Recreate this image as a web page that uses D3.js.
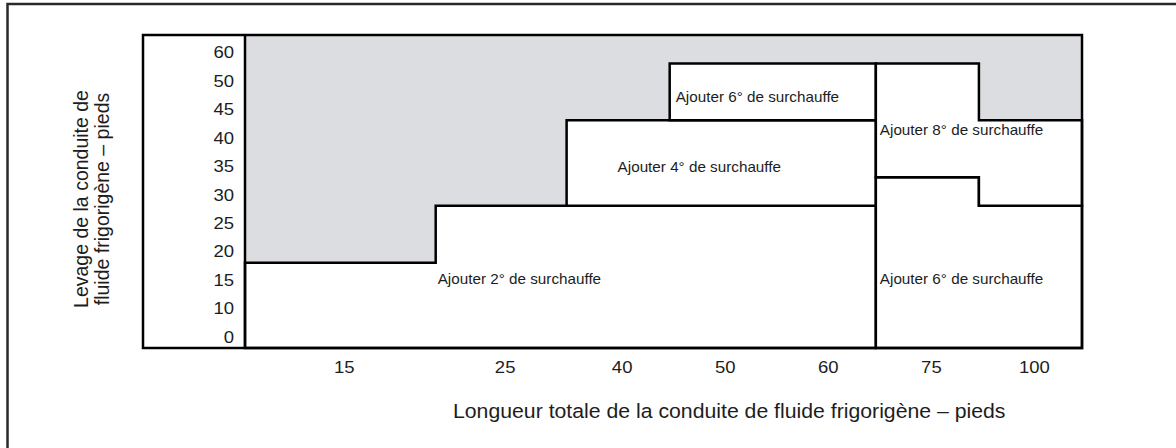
<!DOCTYPE html>
<html>
<head>
<meta charset="utf-8">
<script src="https://cdn.jsdelivr.net/npm/d3@7"></script>
<style>
  html, body { margin: 0; padding: 0; background: #fff; }
  svg { display: block; }
  text { font-family: "Liberation Sans", Arial, Helvetica, sans-serif; fill: #1d1d1d; }
</style>
</head>
<body>
<svg id="chart" width="1176" height="448"></svg>
<script>
// Total refrigerant line length (feet) – one column per value
const lengthLabels = ["15", "25", "40", "50", "60", "75", "100"];
// Refrigerant line lift (feet), listed top to bottom
const liftLabels = ["60", "50", "45", "40", "35", "30", "25", "20", "15", "10", "0"];

// Superheat zones: for each length column, the [lowest, highest] lift row covered
const add2Range      = [["0", "15"], ["0", "25"], ["0", "25"], ["0", "25"], ["0", "25"], null, null];
const add4Range      = [null, null, ["30", "40"], ["30", "40"], ["30", "40"], null, null];
const add6UpperRange = [null, null, null, ["45", "50"], ["45", "50"], null, null];
const add6LongRange  = [null, null, null, null, null, ["0", "30"], ["0", "25"]];
const add8Range      = [null, null, null, null, null, ["35", "50"], ["30", "40"]];

const zoneTexts = [
  "Ajouter 2° de surchauffe",
  "Ajouter 4° de surchauffe",
  "Ajouter 6° de surchauffe",
  "Ajouter 6° de surchauffe",
  "Ajouter 8° de surchauffe"
];

const xTitle = "Longueur totale de la conduite de fluide frigorigène – pieds";
const yTitleLines = ["Levage de la conduite de", "fluide frigorigène – pieds"];

// ---- layout ----
const W = 1176, H = 448;
const box = { left: 143, right: 1082, top: 35, bottom: 348 };
const plotLeft = 245;
const columnWeights = [1.85, 1.27, 1, 1, 1, 1, 1];   // relative column widths
const textStretch = 1.09;                           // horizontal stretch of lettering
const lineW = 2.5;
const gray = "#dcdde0";

// label anchors: column, lift row, pixel nudges (baseline)
const zoneLabelAnchors = [
  { col: "25", lift: "15", dx: 2,  dy: 7 },
  { col: "40", lift: "35", dx: 51, dy: 8.7 },
  { col: "50", lift: "45", dx: 6,  dy: -4.3 },
  { col: "75", lift: "15", dx: 4,  dy: 7.3 },
  { col: "75", lift: "40", dx: 4,  dy: 0.5 }
];
const zoneRanges = [add2Range, add4Range, add6UpperRange, add6LongRange, add8Range];

const svg = d3.select("#chart");

// cumulative column edges in "units"
const edges = [0];
columnWeights.forEach(w => edges.push(edges[edges.length - 1] + w));

const x = d3.scaleLinear().domain([0, edges[edges.length - 1]]).range([plotLeft, box.right]);
const y = d3.scaleBand().domain(liftLabels).range([box.top, box.bottom]).padding(0);

const colX0 = i => x(edges[i]);
const colX1 = i => x(edges[i + 1]);
const colIndex = d3.scaleOrdinal().domain(lengthLabels).range(d3.range(lengthLabels.length));
const rowTop = lab => y(lab);
const rowBottom = lab => y(lab) + y.bandwidth();

// outer frame
svg.append("rect")
  .attr("x", 7.5).attr("y", 4)
  .attr("width", W + 50).attr("height", H + 50)
  .attr("fill", "none")
  .attr("stroke", "#2a2a2a")
  .attr("stroke-width", 2.5);

// gray background of the plot area
svg.append("rect")
  .attr("x", plotLeft).attr("y", box.top)
  .attr("width", box.right - plotLeft).attr("height", box.bottom - box.top)
  .attr("fill", gray);

// build a stepped outline for one zone
function zonePath(range) {
  const cols = range.map((r, i) => r ? i : -1).filter(i => i >= 0);
  const p = d3.path();
  cols.forEach((c, k) => {
    const top = rowTop(range[c][1]);
    if (k === 0) p.moveTo(colX0(c), top); else p.lineTo(colX0(c), top);
    p.lineTo(colX1(c), top);
  });
  for (let k = cols.length - 1; k >= 0; k--) {
    const c = cols[k];
    const bot = rowBottom(range[c][0]);
    p.lineTo(colX1(c), bot);
    p.lineTo(colX0(c), bot);
  }
  p.closePath();
  return p.toString();
}

svg.append("g")
  .selectAll("path")
  .data(zoneRanges)
  .join("path")
  .attr("d", zonePath)
  .attr("fill", "#fff")
  .attr("stroke", "#000")
  .attr("stroke-width", lineW)
  .attr("stroke-linejoin", "miter");

// zone labels
svg.append("g")
  .selectAll("text")
  .data(zoneTexts)
  .join("text")
  .attr("transform", (d, i) => {
    const a = zoneLabelAnchors[i];
    const tx = colX0(colIndex(a.col)) + a.dx;
    const ty = y(a.lift) + y.bandwidth() / 2 + a.dy;
    return `translate(${tx},${ty}) scale(${textStretch},1)`;
  })
  .attr("font-size", 14)
  .text(d => d);

// inner box and divider
svg.append("rect")
  .attr("x", box.left).attr("y", box.top)
  .attr("width", box.right - box.left).attr("height", box.bottom - box.top)
  .attr("fill", "none")
  .attr("stroke", "#000")
  .attr("stroke-width", lineW);
svg.append("line")
  .attr("x1", plotLeft).attr("x2", plotLeft)
  .attr("y1", box.top).attr("y2", box.bottom)
  .attr("stroke", "#000")
  .attr("stroke-width", lineW);

// y tick labels
svg.append("g")
  .selectAll("text")
  .data(liftLabels)
  .join("text")
  .attr("transform", d => `translate(234,${y(d) + y.bandwidth() / 2 + 9}) scale(${textStretch},1)`)
  .attr("text-anchor", "end")
  .attr("font-size", 17)
  .text(d => d);

// x tick labels
svg.append("g")
  .selectAll("text")
  .data(lengthLabels)
  .join("text")
  .attr("transform", (d, i) => `translate(${(colX0(i) + colX1(i)) / 2 + 4},373) scale(${textStretch},1)`)
  .attr("text-anchor", "middle")
  .attr("font-size", 17)
  .text(d => d);

// x axis title
svg.append("text")
  .attr("transform", `translate(453,418) scale(${textStretch},1)`)
  .attr("font-size", 19.5)
  .text(xTitle);

// y axis title (two rotated lines)
svg.append("g")
  .selectAll("text")
  .data(yTitleLines)
  .join("text")
  .attr("transform", (d, i) => `translate(${88 + i * 21},199) rotate(-90)`)
  .attr("text-anchor", "middle")
  .attr("font-size", 19.5)
  .text(d => d);
</script>
</body>
</html>
